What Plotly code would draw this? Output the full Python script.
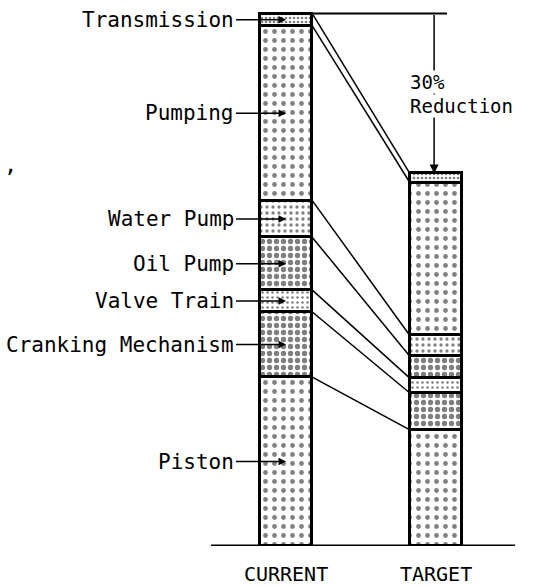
import plotly.graph_objects as go

# friction breakdown, % of current total
components = ["Piston", "Cranking Mechanism", "Valve Train", "Oil Pump",
              "Water Pump", "Pumping", "Transmission"]
current = [31.7, 12.2, 4.1, 9.9, 6.9, 32.8, 2.3]
target = [21.8, 6.9, 2.8, 4.1, 3.9, 28.7, 1.7]
bars = ["CURRENT", "TARGET"]

# dot pattern per component: (spacing, solidity)
patterns = {
    "Piston": (9, 0.22),
    "Cranking Mechanism": (7, 0.45),
    "Valve Train": (5, 0.2),
    "Oil Pump": (7, 0.45),
    "Water Pump": (6, 0.24),
    "Pumping": (9, 0.22),
    "Transmission": (4, 0.35),
}

FONT = "DejaVu Sans Mono"
W = 0.35  # bar width in category units

fig = go.Figure()

for name, c, t in zip(components, current, target):
    size, sol = patterns[name]
    fig.add_trace(go.Bar(
        x=[0, 1], y=[c, t], width=W,
        marker=dict(
            color="white",
            line=dict(color="black", width=3.5),
            pattern=dict(shape=".", fgcolor="black", bgcolor="white",
                         size=size, solidity=sol, fillmode="overlay"),
        ),
        name=name, showlegend=False, hoverinfo="name+y",
    ))

# cumulative tops
cum_c, cum_t = [], []
sc = st = 0
for c, t in zip(current, target):
    sc += c
    st += t
    cum_c.append(sc)
    cum_t.append(st)

# connector lines between the two bars
xs, ys = [], []
for yc, yt in zip(cum_c, cum_t):
    xs += [W / 2, 1 - W / 2, None]
    ys += [yc, yt, None]
fig.add_trace(go.Scatter(x=xs, y=ys, mode="lines",
                         line=dict(color="black", width=1.5),
                         showlegend=False, hoverinfo="skip"))

# labels with arrows on the current bar
for name, yc, c in zip(components, cum_c, current):
    fig.add_annotation(
        x=0, y=yc - c / 2, text=name, showarrow=True,
        ax=-50, ay=0, xanchor="right",
        arrowhead=2, arrowsize=1, arrowwidth=1.5, arrowcolor="black",
        font=dict(family=FONT, size=21, color="black"),
    )

tot_c, tot_t = cum_c[-1], cum_t[-1]
arrow_x = 0.987

# reference line at current total and reduction arrow
fig.add_shape(type="line", x0=W / 2, x1=1.073, y0=tot_c, y1=tot_c,
              line=dict(color="black", width=2))
fig.add_annotation(x=arrow_x, y=tot_t, ax=arrow_x, ay=tot_c,
                   axref="x", ayref="y", text="", showarrow=True,
                   arrowhead=2, arrowsize=1.2, arrowwidth=1.5,
                   arrowcolor="black")
red = round((1 - tot_t / tot_c) * 100)
fig.add_annotation(x=0.82, y=87.0, text=f"{red}%", showarrow=False,
                   xanchor="left", bgcolor="white", borderpad=0,
                   font=dict(family=FONT, size=19, color="black"))
fig.add_annotation(x=0.82, y=82.6, text="Reduction", showarrow=False,
                   xanchor="left", bgcolor="white", borderpad=0,
                   font=dict(family=FONT, size=19, color="black"))

# stray mark at the left edge of the scan
fig.add_annotation(x=0.004, y=0.725, xref="paper", yref="paper", text=",",
                   showarrow=False, font=dict(family=FONT, size=22, color="black"))

# baseline
fig.add_shape(type="line", x0=-0.5, x1=1.527, y0=0, y1=0,
              line=dict(color="black", width=3))

fig.update_layout(
    width=546, height=587,
    barmode="stack", bargap=0,
    paper_bgcolor="white", plot_bgcolor="white",
    margin=dict(l=0, r=0, t=0, b=41),
    xaxis=dict(range=[-1.907, 1.733], tickmode="array", tickvals=[0, 1],
               ticktext=bars, showgrid=False, zeroline=False, showline=False,
               ticks="", ticklabelstandoff=14,
               tickfont=dict(family=FONT, size=20, color="black")),
    yaxis=dict(range=[0, 102.44], visible=False),
)

fig.write_html("out.html", config={"displayModeBar": False},
               post_script="document.body.style.margin='0';")
